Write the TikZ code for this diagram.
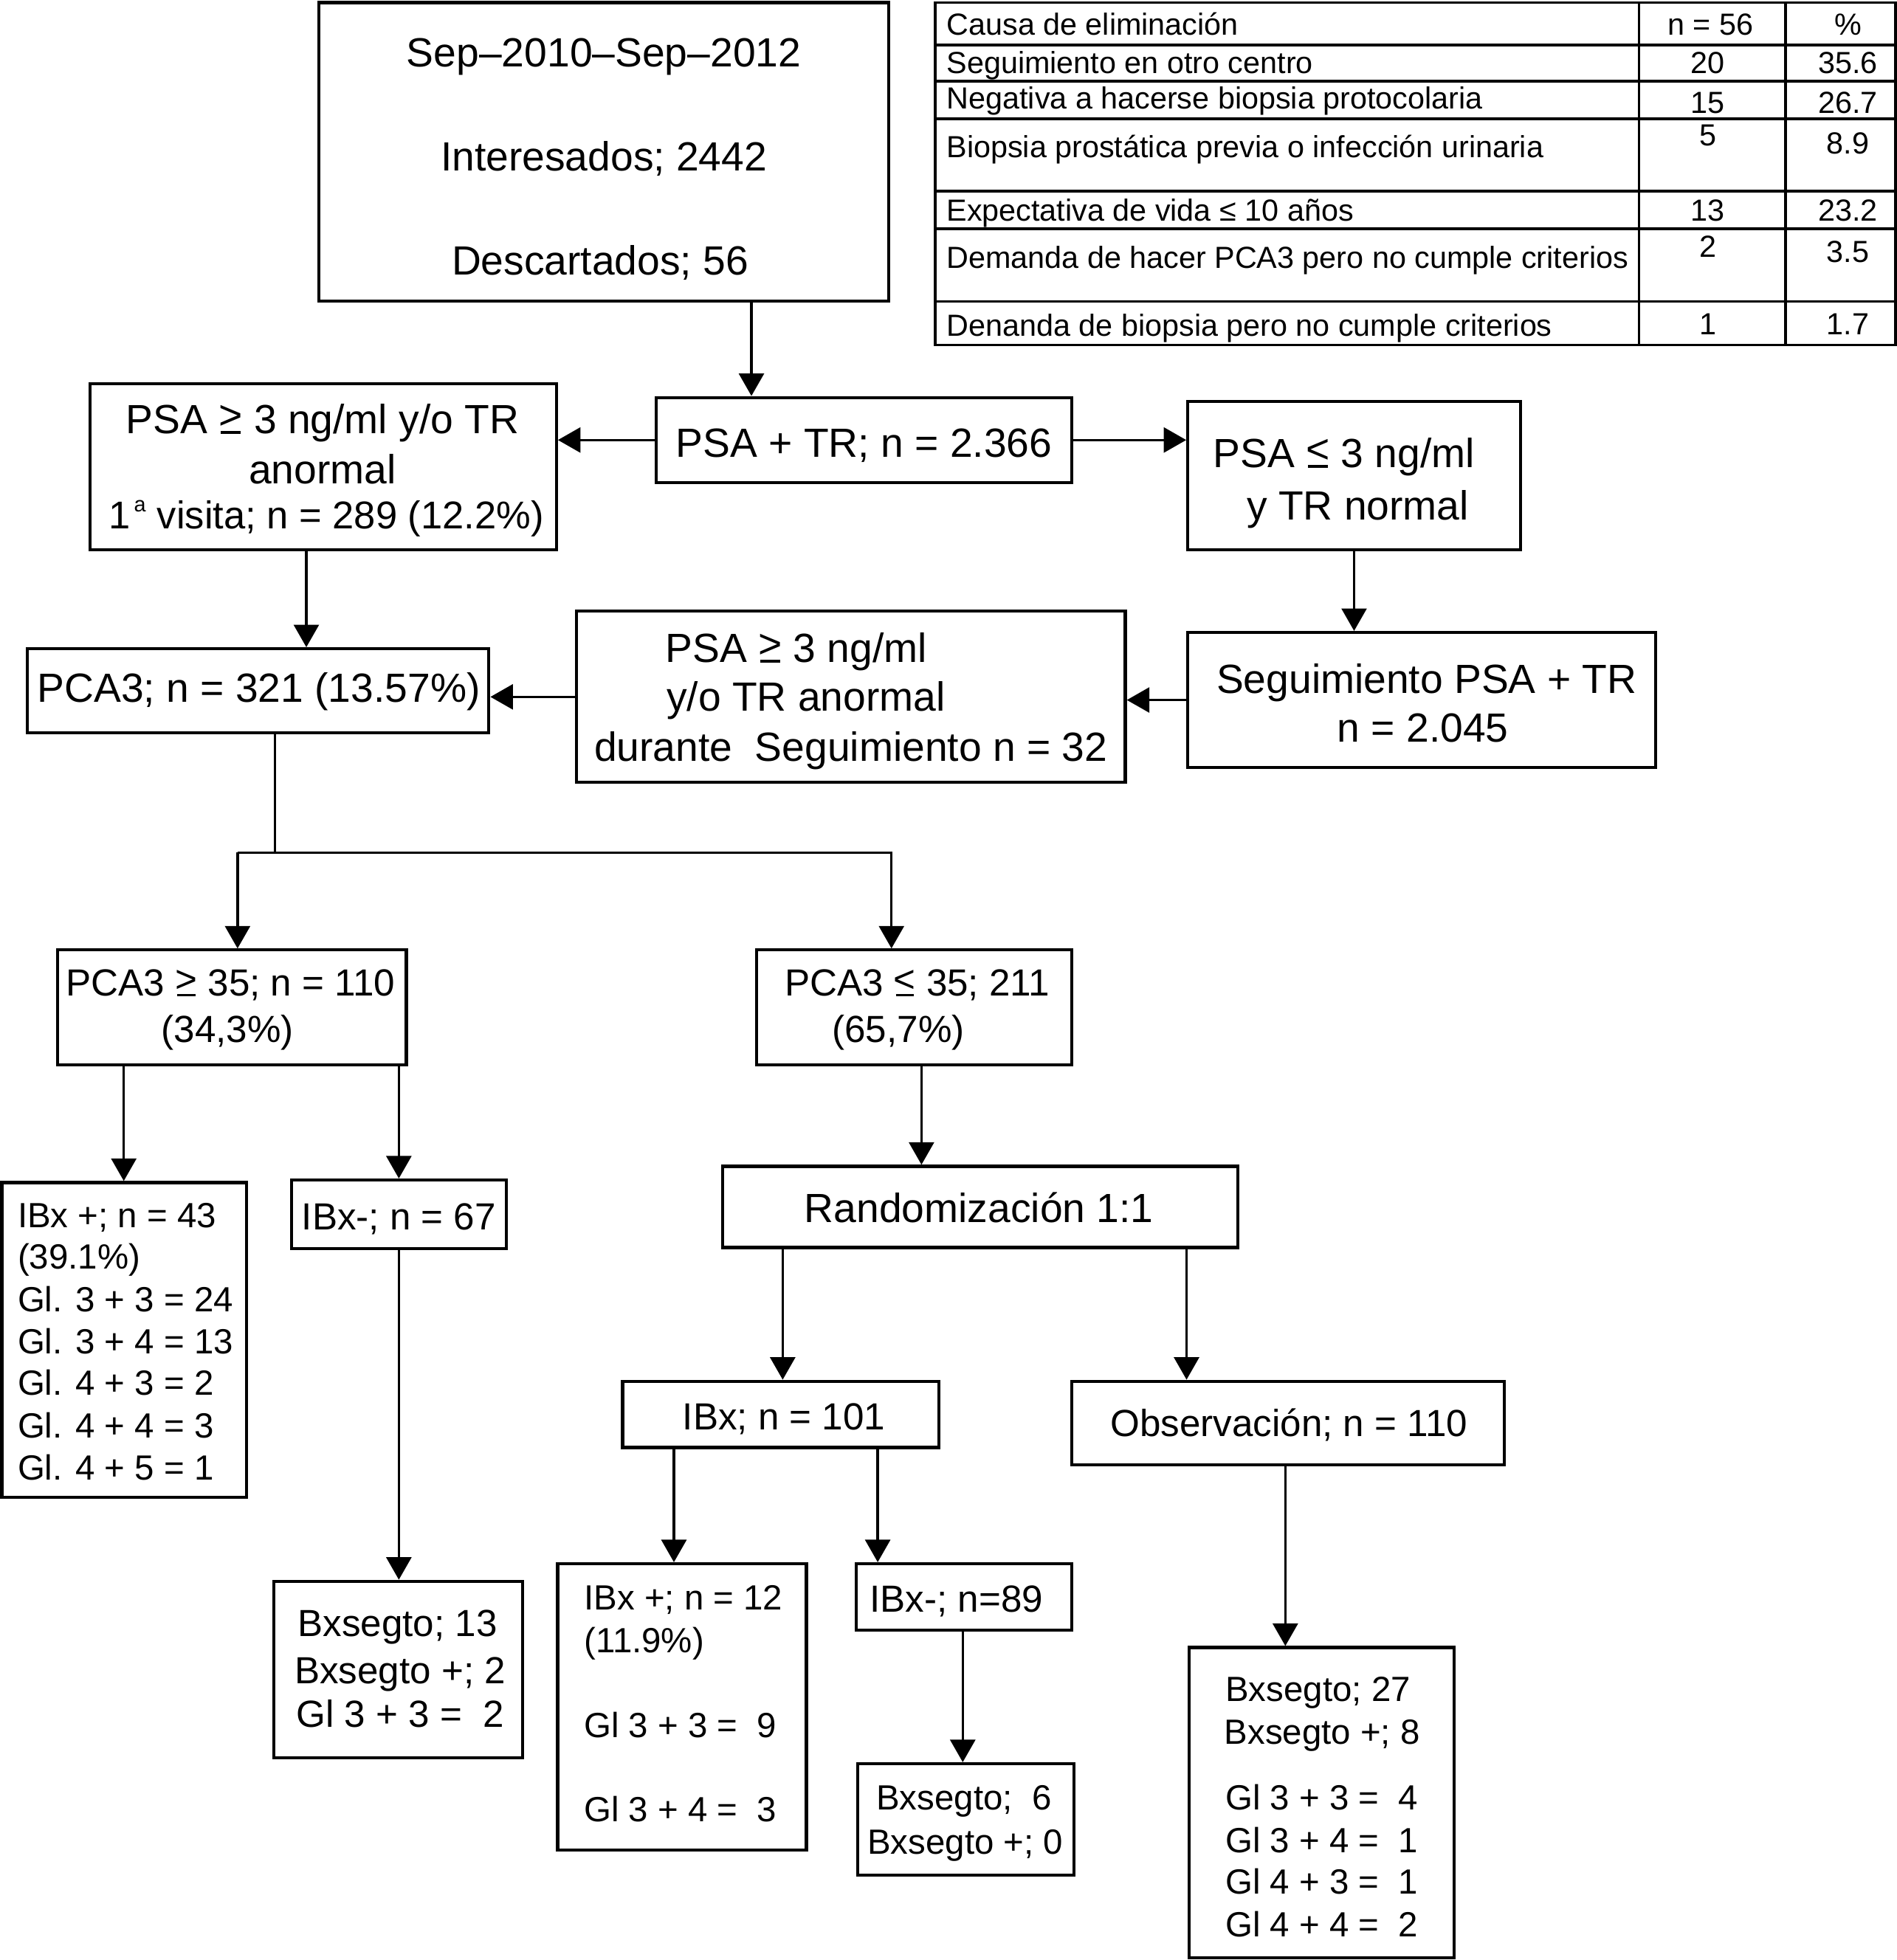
\documentclass[tikz,border=0pt]{standalone}
\usepackage{fontspec}
\setmainfont{Liberation Sans}
\usetikzlibrary{arrows.meta,fit}
\newcommand{\ulrel}[1]{\rlap{\makebox[0.584em]{\rule[-0.01em]{0.48em}{0.065em}}}\makebox[0.584em]{\raisebox{0.1em}{#1}}}
\begin{document}
\begin{tikzpicture}[x=1pt,y=-1pt,
 box/.style={draw, line width=2.5pt, inner sep=0pt},
 arr/.style={line width=2pt, -{Triangle[length=18pt,width=20pt]}},
 ln/.style={line width=2pt},
 tbl/.style={line width=2pt},
 tA/.style={font=\fontsize{32.6}{39}\selectfont, inner sep=0pt},
 tB/.style={font=\fontsize{30.2}{36}\selectfont, inner sep=0pt},
 tC/.style={font=\fontsize{28}{34}\selectfont, inner sep=0pt},
 tD/.style={font=\fontsize{24.4}{29}\selectfont, inner sep=0pt},
]
\useasboundingbox (0,0) rectangle (1517,1568);

% ---------- boxes ----------
\node[box, fit={(255,2) (711,241)}] (top) {};
\node[box, fit={(525,318) (857,386)}] (psatr) {};
\node[box, fit={(72,307) (445,440)}] (left) {};
\node[box, fit={(950,321) (1216,440)}] (right) {};
\node[box, fit={(950,506) (1324,614)}] (seg) {};
\node[box, fit={(461,489) (900,626)}] (mid) {};
\node[box, fit={(22,519) (391,586)}] (pca3) {};
\node[box, fit={(46,760) (325,852)}] (hi) {};
\node[box, fit={(605,760) (857,852)}] (lo) {};
\node[box, fit={(1.5,946) (197,1198)}] (ibxp) {};
\node[box, fit={(233,944) (405,999)}] (ibxn) {};
\node[box, fit={(219,1265) (418,1406)}] (bx13) {};
\node[box, fit={(578,933) (990,998)}] (rand) {};
\node[box, fit={(498,1105) (751,1158)}] (ibx) {};
\node[box, fit={(857,1105) (1203,1172)}] (obs) {};
\node[box, fit={(446,1251) (645,1480)}] (ibxp12) {};
\node[box, fit={(685,1251) (857,1304)}] (ibxn89) {};
\node[box, fit={(686,1411) (859,1500)}] (bx6) {};
\node[box, fit={(951,1318) (1163,1566)}] (bx27) {};

% ---------- texts ----------
\node[tA, anchor=base] (top1) at (483,53.7) {Sep–2010–Sep–2012};
\node[tA, anchor=base] (top2) at (483,136.7) {Interesados; 2442};
\node[tA, anchor=base] (top3) at (480,219.7) {Descartados; 56};

\node[tA, anchor=base] (psatrt) at (691,365.7) {PSA + TR; n = 2.366};

\node[tA, anchor=base] (left1) at (258,346.7) {PSA \ulrel{>} 3 ng/ml y/o TR};
\node[tA, anchor=base] (left2) at (258,386.7) {anormal};
\node[anchor=base, inner sep=0pt, font=\fontsize{31}{37}\selectfont] (left3) at (261,422.7)
  {1\hspace{3pt}\raisebox{13pt}{\fontsize{17}{17}\selectfont a}\hspace{9pt}visita; n = 289 (12.2\%)};

\node[tA, anchor=base west] (right1) at (970,373.7) {PSA \ulrel{<} 3 ng/ml};
\node[tA, anchor=base west] (right2) at (997,415.7) {y TR normal};

\node[tA, anchor=base] (seg1) at (1141,554.7) {Seguimiento PSA + TR};
\node[tA, anchor=base] (seg2) at (1138,593.7) {n = 2.045};

\node[tA, anchor=base west] (mid1) at (532,529.7) {PSA \ulrel{>} 3 ng/ml};
\node[tA, anchor=base west] (mid2) at (533,568.7) {y/o TR anormal};
\node[tA, anchor=base] (mid3) at (680.5,608.7) {durante\ \ Seguimiento n = 32};

\node[tA, anchor=base] (pca3t) at (207,561.7) {PCA3; n = 321 (13.57\%)};

\node[tB, anchor=base] (hi1) at (184.5,796.9) {PCA3 \ulrel{>} 35; n = 110};
\node[tB, anchor=base] (hi2) at (182,833.9) {(34,3\%)};

\node[tB, anchor=base] (lo1) at (733.5,796.9) {PCA3 \ulrel{<} 35; 211};
\node[tB, anchor=base] (lo2) at (718.5,833.9) {(65,7\%)};

\node[tC, anchor=base west] (ibxp1) at (14,982.1) {IBx +; n = 43};
\node[tC, anchor=base west] (ibxp2) at (14,1015.1) {(39.1\%)};
\node[tC, anchor=base west] (ibxp3) at (14,1049.1) {Gl. 3 + 3 = 24};
\node[tC, anchor=base west] (ibxp4) at (14,1083.1) {Gl. 3 + 4 = 13};
\node[tC, anchor=base west] (ibxp5) at (14,1116.1) {Gl. 4 + 3 = 2};
\node[tC, anchor=base west] (ibxp6) at (14,1150.1) {Gl. 4 + 4 = 3};
\node[tC, anchor=base west] (ibxp7) at (14,1184.1) {Gl. 4 + 5 = 1};

\node[tB, anchor=base] (ibxnt) at (319,983.9) {IBx-; n = 67};

\node[tB, anchor=base] (bx131) at (318,1308.9) {Bxsegto; 13};
\node[tB, anchor=base] (bx132) at (320,1346.9) {Bxsegto +; 2};
\node[tB, anchor=base] (bx133) at (320,1381.9) {Gl 3 + 3 =\ \ 2};

\node[tA, anchor=base] (randt) at (783,977.7) {Randomización 1:1};

\node[tB, anchor=base] (ibxt) at (627,1143.9) {IBx; n = 101};
\node[tB, anchor=base] (obst) at (1031,1148.9) {Observación; n = 110};

\node[tC, anchor=base west] (ibxp121) at (467,1288.1) {IBx +; n = 12};
\node[tC, anchor=base west] (ibxp122) at (467,1322.1) {(11.9\%)};
\node[tC, anchor=base west] (ibxp123) at (467,1390.1) {Gl 3 + 3 =\ \ 9};
\node[tC, anchor=base west] (ibxp124) at (467,1457.1) {Gl 3 + 4 =\ \ 3};

\node[tB, anchor=base] (ibxn89t) at (765,1289.9) {IBx-; n=89};

\node[tC, anchor=base] (bx61) at (771,1448.1) {Bxsegto;\ \ 6};
\node[tC, anchor=base] (bx62) at (772,1483.1) {Bxsegto +; 0};

\node[tC, anchor=base west] (bx271) at (980,1361.1) {Bxsegto; 27};
\node[tC, anchor=base west] (bx272) at (979,1395.1) {Bxsegto +; 8};
\node[tC, anchor=base west] (bx273) at (980,1448.1) {Gl 3 + 3 =\ \ 4};
\node[tC, anchor=base west] (bx274) at (980,1482.1) {Gl 3 + 4 =\ \ 1};
\node[tC, anchor=base west] (bx275) at (980,1515.1) {Gl 4 + 3 =\ \ 1};
\node[tC, anchor=base west] (bx276) at (980,1549.1) {Gl 4 + 4 =\ \ 2};

% ---------- connector x positions ----------
\coordinate (c601) at (601,0);
\coordinate (c245) at (245,0);
\coordinate (c220) at (220,0);
\coordinate (c190) at (190,0);
\coordinate (c713) at (713,0);
\coordinate (c99) at (99,0);
\coordinate (c319) at (319,0);
\coordinate (c737) at (737,0);
\coordinate (c626) at (626,0);
\coordinate (c949) at (949,0);
\coordinate (c539) at (539,0);
\coordinate (c702) at (702,0);
\coordinate (c770) at (770,0);
\coordinate (c1028) at (1028,0);
\coordinate (split) at (220,682);

% ---------- connectors ----------
\draw[arr] (top.south -| c601) -- (psatr.north -| c601);
\draw[arr] (psatr.west) -- (psatr.west -| left.east);
\draw[arr] (psatr.east) -- (psatr.east -| right.west);
\draw[arr] (left.south -| c245) -- (pca3.north -| c245);
\draw[arr] (right.south) -- (seg.north -| right.south);
\draw[arr] (seg.west) -- (seg.west -| mid.east);
\draw[arr] (mid.west) -- (mid.west -| pca3.east);
\draw[ln] (pca3.south -| c220) -- (split);
\draw[ln] (split) -- (split -| c190);
\draw[arr] (split -| c190) -- (hi.north -| c190);
\draw[arr] (split) -| (lo.north -| c713);
\draw[arr] (hi.south -| c99) -- (ibxp.north -| c99);
\draw[arr] (hi.south -| c319) -- (ibxn.north -| c319);
\draw[arr] (ibxn.south -| c319) -- (bx13.north -| c319);
\draw[arr] (lo.south -| c737) -- (rand.north -| c737);
\draw[arr] (rand.south -| c626) -- (ibx.north -| c626);
\draw[arr] (rand.south -| c949) -- (obs.north -| c949);
\draw[arr] (ibx.south -| c539) -- (ibxp12.north -| c539);
\draw[arr] (ibx.south -| c702) -- (ibxn89.north -| c702);
\draw[arr] (ibxn89.south -| c770) -- (bx6.north -| c770);
\draw[arr] (obs.south -| c1028) -- (bx27.north -| c1028);

% ---------- table ----------
\draw[tbl] (748,2) rectangle (1516,276);
\foreach \yy in {36,65,95,153,183,241} \draw[tbl] (748,\yy) -- (1516,\yy);
\draw[tbl] (1311,2) -- (1311,276);
\draw[tbl] (1428,2) -- (1428,276);

\node[tD, anchor=base west] (r1a) at (757,27.8) {Causa de eliminación};
\node[tD, anchor=base] (r1b) at (1368,27.8) {n = 56};
\node[tD, anchor=base] (r1c) at (1478,27.8) {\%};
\node[tD, anchor=base west] (r2a) at (757,58.8) {Seguimiento en otro centro};
\node[tD, anchor=base] (r2b) at (1366,58.8) {20};
\node[tD, anchor=base] (r2c) at (1478,58.8) {35.6};
\node[tD, anchor=base west] (r3a) at (757,86.8) {Negativa a hacerse biopsia protocolaria};
\node[tD, anchor=base] (r3b) at (1366,90.8) {15};
\node[tD, anchor=base] (r3c) at (1478,90.8) {26.7};
\node[tD, anchor=base west] (r4a) at (757,125.8) {Biopsia prostática previa o infección urinaria};
\node[tD, anchor=base] (r4b) at (1366,116.8) {5};
\node[tD, anchor=base] (r4c) at (1478,122.8) {8.9};
\node[tD, anchor=base west] (r5a) at (757,176.8) {Expectativa de vida ≤ 10 años};
\node[tD, anchor=base] (r5b) at (1366,176.8) {13};
\node[tD, anchor=base] (r5c) at (1478,176.8) {23.2};
\node[tD, anchor=base west] (r6a) at (757,214.8) {Demanda de hacer PCA3 pero no cumple criterios};
\node[tD, anchor=base] (r6b) at (1366,205.8) {2};
\node[tD, anchor=base] (r6c) at (1478,209.8) {3.5};
\node[tD, anchor=base west] (r7a) at (757,268.8) {Denanda de biopsia pero no cumple criterios};
\node[tD, anchor=base] (r7b) at (1366,267.8) {1};
\node[tD, anchor=base] (r7c) at (1478,267.8) {1.7};
\end{tikzpicture}
\end{document}
